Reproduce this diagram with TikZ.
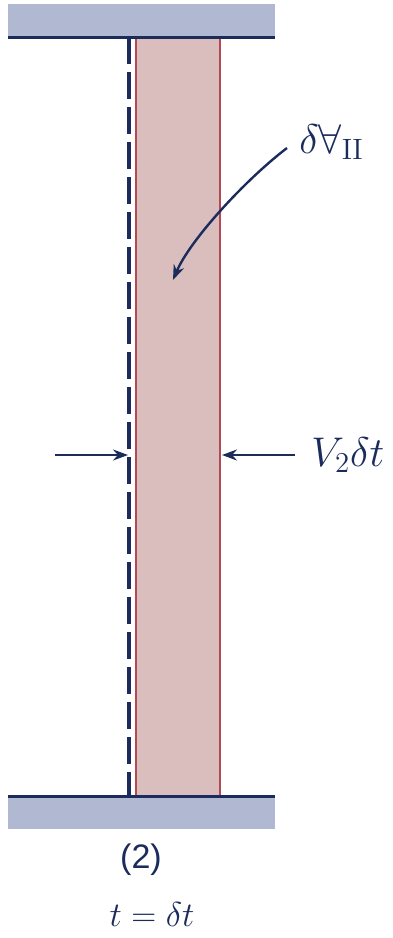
\documentclass[tikz,border=0pt]{standalone}
\usepackage{amsmath, amssymb}
\usepackage{fontspec}
\setsansfont{Liberation Sans}
\usepackage{tikz}
\usetikzlibrary{arrows.meta, positioning, calc}
\usepackage{xcolor}
\definecolor{Navy}{HTML}{1A2B5C}
\definecolor{Plate}{HTML}{B1B9D2}
\definecolor{Rose}{HTML}{DABDBD}
\definecolor{DRed}{HTML}{B24A55}

\begin{document}
\begin{tikzpicture}[>={Stealth[length=7.5pt, width=5.5pt]}, x=0.5pt, y=-0.5pt,
    wall/.style={Navy, line width=1.5pt},
    edge/.style={DRed, line width=0.9pt},
    lbl/.style={Navy, inner sep=0pt, font=\fontsize{21}{24}\selectfont},
    arr/.style={->, Navy, line width=1pt}]
  \useasboundingbox (0,0) rectangle (392,938);
  % plates
  \fill[Plate] (8,4) rectangle (275,37);
  \fill[Plate] (8,796) rectangle (275,829);
  % fluid slab
  \fill[Rose] (136,37) rectangle (220,796);
  \draw[edge] (136,37) -- (136,796);
  \draw[edge] (220,37) -- (220,796);
  \draw[wall] (8,37) -- (275,37);
  \draw[wall] (8,796) -- (275,796);
  % old boundary
  \draw[Navy, line width=2pt, dash pattern=on 13.5pt off 4pt] (129,37) -- (129,796);
  % labels
  \node[lbl, anchor=west] (vol) at (299,142) {$\delta\forall_{\mathrm{II}}$};
  \node[lbl, anchor=west] (dist) at (311,455) {$V_2\delta t$};
  \node[lbl, font=\sffamily\fontsize{17}{20}\selectfont] (sec) at (141,860) {(2)};
  \node[lbl, font=\fontsize{19}{22}\selectfont] (time) at (152,914) {$t = \delta t$};
  \coordinate (vtip) at (173,280);
  \coordinate (lin) at (55,455);
  \coordinate (lhit) at (128,455);
  \coordinate (rhit) at (222,455);
  \draw[arr, line width=1.2pt] ($(vol.west)+(-12,6)$) .. controls (245,180) and (190,240) .. (vtip);
  \draw[arr] (lin) -- (lhit);
  \draw[arr] ($(dist.west)+(-16,0)$) -- (rhit);
\end{tikzpicture}
\end{document}
